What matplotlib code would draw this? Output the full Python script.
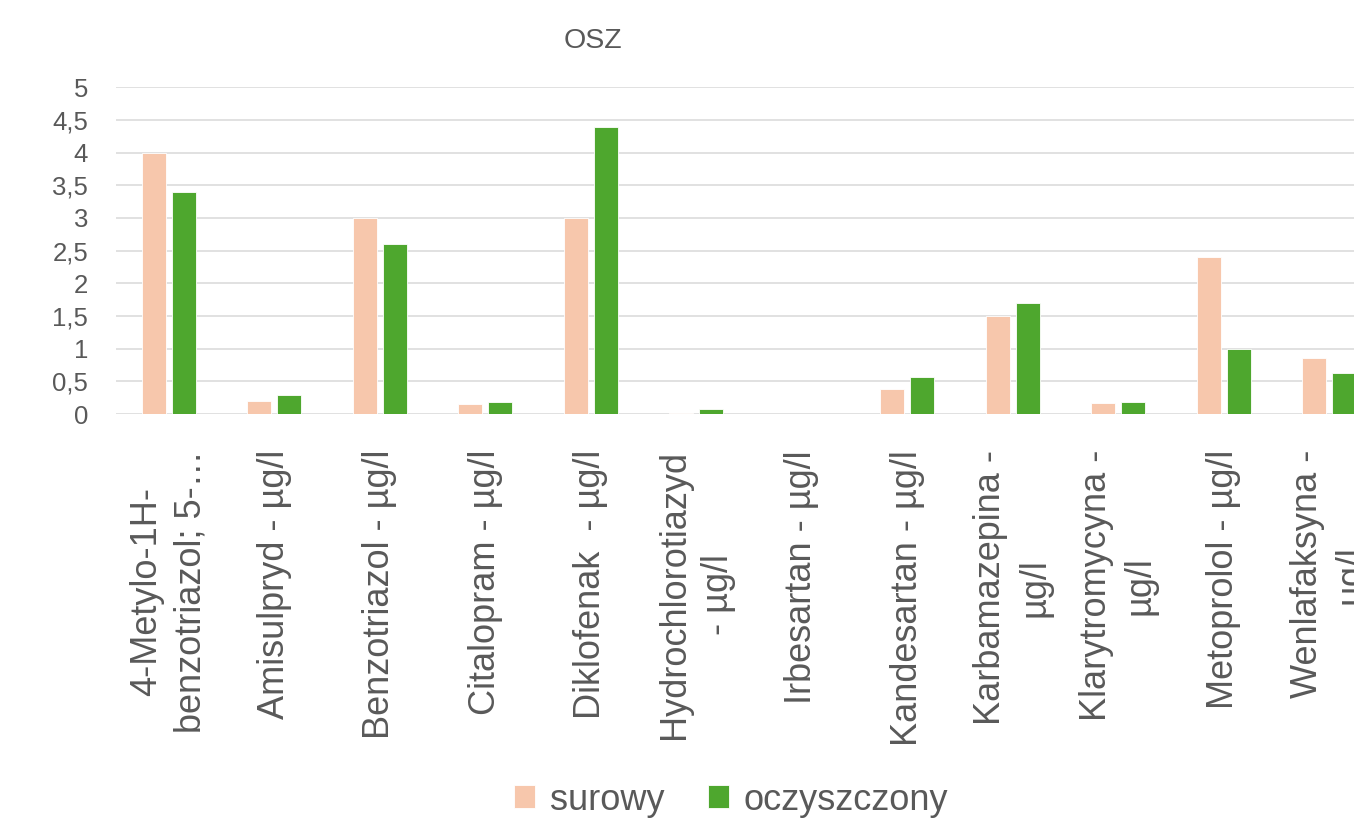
import matplotlib.pyplot as plt
import numpy as np

plt.rcParams['font.family'] = ['Liberation Sans', 'DejaVu Sans']

categories = ['4-Metylo-1H-\nbenzotriazol; 5-…', 'Amisulpryd - µg/l', 'Benzotriazol - µg/l',
              'Citalopram - µg/l', 'Diklofenak  - µg/l', 'Hydrochlorotiazyd\n- µg/l',
              'Irbesartan - µg/l', 'Kandesartan - µg/l', 'Karbamazepina -\nµg/l',
              'Klarytromycyna -\nµg/l', 'Metoprolol - µg/l', 'Wenlafaksyna -\nµg/l']
surowy = [4.0, 0.20, 3.0, 0.15, 3.0, 0.02, 0.0, 0.38, 1.5, 0.17, 2.4, 0.86]
oczyszczony = [3.4, 0.29, 2.6, 0.18, 4.4, 0.07, 0.0, 0.57, 1.7, 0.18, 1.0, 0.62]
yticks = np.arange(0, 5.01, 0.5)

txt = '#595959'
fig = plt.figure(figsize=(13.54, 8.22), dpi=100)
# plot area runs past the right edge, as in the cropped original
ax = fig.add_axes([116/1354, 1 - 414/822, 1266/1354, 326.7/822])

x = np.arange(len(categories))
w = 0.23
ax.bar(x - 0.143, surowy, w, color='#F7C7AC', edgecolor='white', linewidth=0.6, label='surowy', zorder=3)
ax.bar(x + 0.143, oczyszczony, w, color='#4EA72E', edgecolor='white', linewidth=0.6, label='oczyszczony', zorder=3)

ax.set_xlim(-0.5, len(categories) - 0.5)
ax.set_ylim(0, 5)
ax.set_yticks(yticks)
ax.set_yticklabels([f'{v:g}'.replace('.', ',') for v in yticks])
ax.yaxis.grid(True, color='#d9d9d9', linewidth=1.1, zorder=0)
for s in ax.spines.values():
    s.set_visible(False)
ax.tick_params(axis='y', length=0, pad=20, labelsize=18.5, labelcolor=txt)
ax.set_xticks(x)
ax.set_xticklabels(categories, rotation=90, fontsize=26, color=txt,
                   multialignment='center', linespacing=1.35)
ax.tick_params(axis='x', length=0, pad=26)

fig.text(593/1354, 1 - 41/822, 'OSZ', ha='center', va='center', fontsize=20.5, color=txt)
fig.legend(loc='center', bbox_to_anchor=(731/1354, 1 - 800/822), ncol=2, frameon=False,
           fontsize=26, labelcolor=txt, handlelength=0.6, handleheight=0.6,
           handletextpad=0.4, columnspacing=1.2)

fig.savefig('out.png', dpi=100)
